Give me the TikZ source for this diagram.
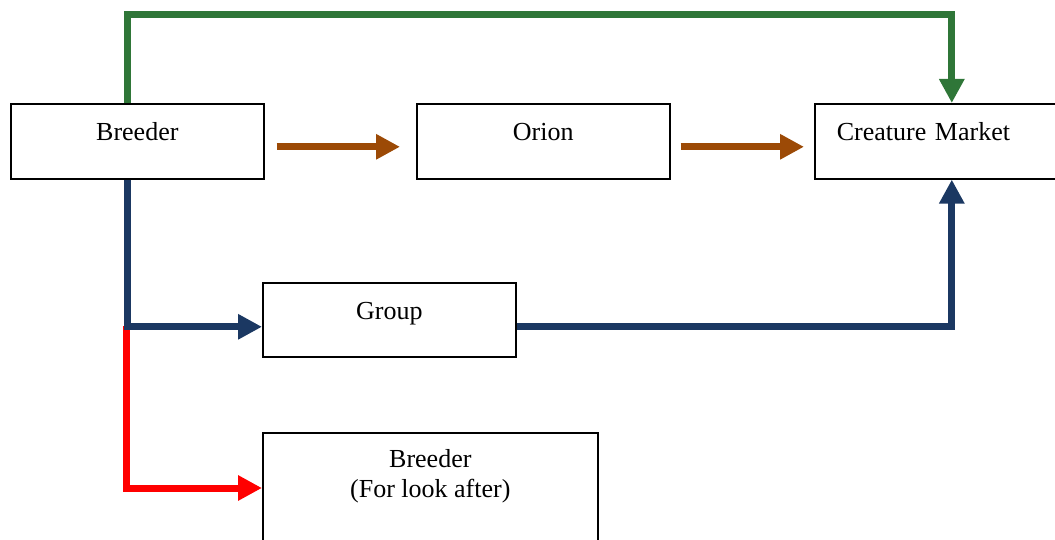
\documentclass[tikz,border=0pt]{standalone}
\usepackage{fontspec}
\setmainfont{Liberation Serif}
\usetikzlibrary{arrows.meta}
\definecolor{cgreen}{HTML}{2F7638}
\definecolor{cbrown}{HTML}{9C4A06}
\definecolor{cnavy}{HTML}{1B3862}
\definecolor{cred}{HTML}{FF0000}
\begin{document}
\begin{tikzpicture}[x=1pt,y=-1pt,
  box/.style={draw=black, line width=1.6pt, rectangle, anchor=north west,
    inner xsep=0pt, inner ysep=0pt, minimum width=253pt,
    text height=37pt, text depth=38pt,
    font=\fontsize{26}{30}\selectfont},
  conn/.style={line width=7pt, line join=miter,
    -{Triangle[length=24pt,width=24pt]}}
]
\useasboundingbox (0,0) rectangle (1055,540);
\begin{scope}
\clip (0,0) rectangle (1055,540);
\node[box] (b1) at (10,103) {Breeder};
\node[box] (orion) at (416,103) {Orion};
\node[box, text width=209pt, align=left, inner xsep=22pt] (cm) at (814,103) {Creature Market};
\node[box, text height=37pt, text depth=37pt] (group) at (262,282) {Group};
\node[box, minimum width=335pt, text height=35pt, text depth=130pt] (b2) at (262,432)
  {\begin{tabular}[t]{@{}c@{}}Breeder\\(For look after)\end{tabular}};
\coordinate (j) at (126.5,326);

\draw[conn, cgreen] ([xshift=-10pt]b1.north) -- ++(0,-88) -| ([xshift=10.5pt]cm.north);
\draw[conn, cbrown] ([xshift=12pt,yshift=-5.5pt]b1.east) -- ([xshift=-16pt,yshift=-5.5pt]orion.west);
\draw[conn, cbrown] ([xshift=10pt,yshift=-5.5pt]orion.east) -- ([xshift=-10pt,yshift=-5.5pt]cm.west);
\draw[conn, cred] (j) |- ([yshift=-56pt]b2.north west);
\draw[conn, cnavy] ([xshift=-10pt]b1.south) |- ([yshift=-7pt]group.west);
\draw[conn, cnavy] ([yshift=-7pt]group.east) -| ([xshift=10.5pt]cm.south);
\end{scope}
\end{tikzpicture}
\end{document}
